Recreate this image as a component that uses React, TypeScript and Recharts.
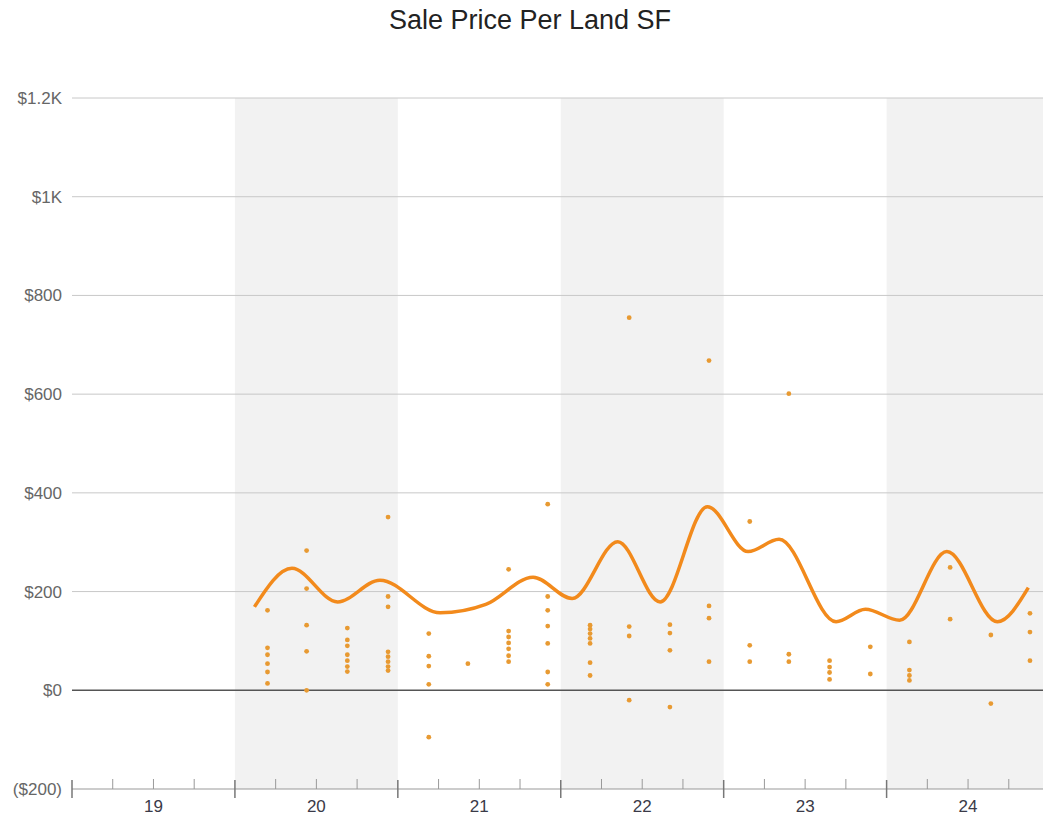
import {
  ComposedChart, XAxis, YAxis, Scatter, Line,
  ReferenceArea, ReferenceLine
} from "recharts"

// quarterly sale dates (year fraction) and the sale prices per land SF seen at each date
const saleDates = [
  2020.2, 2020.44, 2020.69, 2020.94,
  2021.19, 2021.43, 2021.68, 2021.92,
  2022.18, 2022.42, 2022.67, 2022.91,
  2023.16, 2023.4, 2023.65, 2023.9,
  2024.14, 2024.39, 2024.64, 2024.88,
]
const saleValues = [
  [162, 86, 72, 54, 37, 14],
  [283, 206, 132, 79, 0],
  [126, 102, 90, 72, 60, 48, 38],
  [351, 190, 169, 78, 68, 58, 48, 40],
  [115, 69, 49, 12, -95],
  [54],
  [245, 120, 108, 96, 84, 70, 58],
  [377, 190, 162, 130, 95, 37, 12],
  [132, 124, 115, 105, 95, 56, 30],
  [755, 129, 110, -20],
  [133, 116, 81, -34],
  [668, 171, 146, 58],
  [342, 91, 58],
  [601, 73, 58],
  [60, 47, 36, 22],
  [88, 33],
  [98, 41, 30, 20],
  [249, 144],
  [112, -27],
  [156, 118, 60],
]

// smoothed trend line
const trendDates = [
  2020.12, 2020.35, 2020.63, 2020.89, 2021.26, 2021.54, 2021.83,
  2022.07, 2022.35, 2022.61, 2022.9, 2023.15, 2023.34, 2023.69,
  2023.87, 2024.08, 2024.37, 2024.68, 2024.87,
]
const trendValues = [
  169, 247, 179, 223, 157, 174, 229,
  186, 301, 179, 372, 281, 306, 139,
  164, 142, 281, 139, 208,
]

const yearLabels = ["19", "20", "21", "22", "23", "24"]
const shadedYears = [2020, 2022, 2024]
const yTicks = [-200, 0, 200, 400, 600, 800, 1000, 1200]
const quarterTicks = [
  2019, 2019.25, 2019.5, 2019.75,
  2020, 2020.25, 2020.5, 2020.75,
  2021, 2021.25, 2021.5, 2021.75,
  2022, 2022.25, 2022.5, 2022.75,
  2023, 2023.25, 2023.5, 2023.75,
  2024, 2024.25, 2024.5, 2024.75,
]
const xStart = 2019
const xEnd = 2024.96

const scatterData = saleDates.flatMap((d, i) => saleValues[i].map((v) => ({ x: d, y: v })))
const trendData = trendDates.map((d, i) => ({ x: d, y: trendValues[i] }))

const money = (v: number) => {
  if (v < 0) return `($${-v})`
  if (v >= 1000) return `$${v / 1000}K`
  return `$${v}`
}

const XTick = (props: any) => {
  const { x, y, payload } = props
  const v = payload.value as number
  const major = Math.abs(v - Math.round(v)) < 1e-6
  const mid = Math.abs(v - Math.floor(v) - 0.5) < 1e-6
  return (
    <g>
      <line x1={x} x2={x} y1={major ? y - 9 : y - 10} y2={major ? y + 9 : y}
        stroke={major ? "#777" : "#999"} strokeWidth={major ? 1.5 : 1} />
      {mid && (
        <text x={x} y={y + 23} textAnchor="middle" fontSize={17} fill="#3a3a48">
          {yearLabels[Math.floor(v) - 2019]}
        </text>
      )}
    </g>
  )
}

const Dot = (p: any) => <circle cx={p.cx} cy={p.cy} r={2.4} fill="#e89a32" />

export default function App() {
  return (
    <div style={{ position: "absolute", left: 0, top: 0, width: 1043, height: 816, background: "#fff",
      fontFamily: "'Liberation Sans', Arial, sans-serif" }}>
      <div style={{ position: "absolute", top: 5, width: 1060, textAlign: "center", fontSize: 27, color: "#222" }}>
        Sale Price Per Land SF
      </div>
      <ComposedChart width={1043} height={816} margin={{ top: 98, right: 0, left: 0, bottom: 0 }}>
        <XAxis type="number" dataKey="x" domain={[xStart, xEnd]} ticks={quarterTicks} interval={0}
          allowDataOverflow height={27} tickSize={0} tickMargin={0} tickLine={false}
          axisLine={{ stroke: "#999" }} tick={<XTick />} />
        <YAxis type="number" dataKey="y" domain={[-200, 1200]} ticks={yTicks} width={72}
          axisLine={false} tickLine={false} tickSize={0} tickMargin={10} tickFormatter={money}
          tick={{ fill: "#666", fontSize: 17 }} />
        {shadedYears.map((yr) => (
          <ReferenceArea key={yr} x1={yr} x2={Math.min(yr + 1, xEnd)} y1={-200} y2={1200}
            fill="#f2f2f2" fillOpacity={1} stroke="none" />
        ))}
        {yTicks.filter((t) => t > -200 && t !== 0).map((t) => (
          <ReferenceLine key={t} y={t} stroke="#c8c8c8" strokeWidth={1} />
        ))}
        <ReferenceLine y={0} stroke="#555" strokeWidth={1.5} />
        <Scatter data={scatterData} shape={<Dot />} isAnimationActive={false} />
        <Line data={trendData} dataKey="y" type="monotone" dot={false} stroke="#f28a1c"
          strokeWidth={3.5} isAnimationActive={false} />
      </ComposedChart>
    </div>
  )
}
